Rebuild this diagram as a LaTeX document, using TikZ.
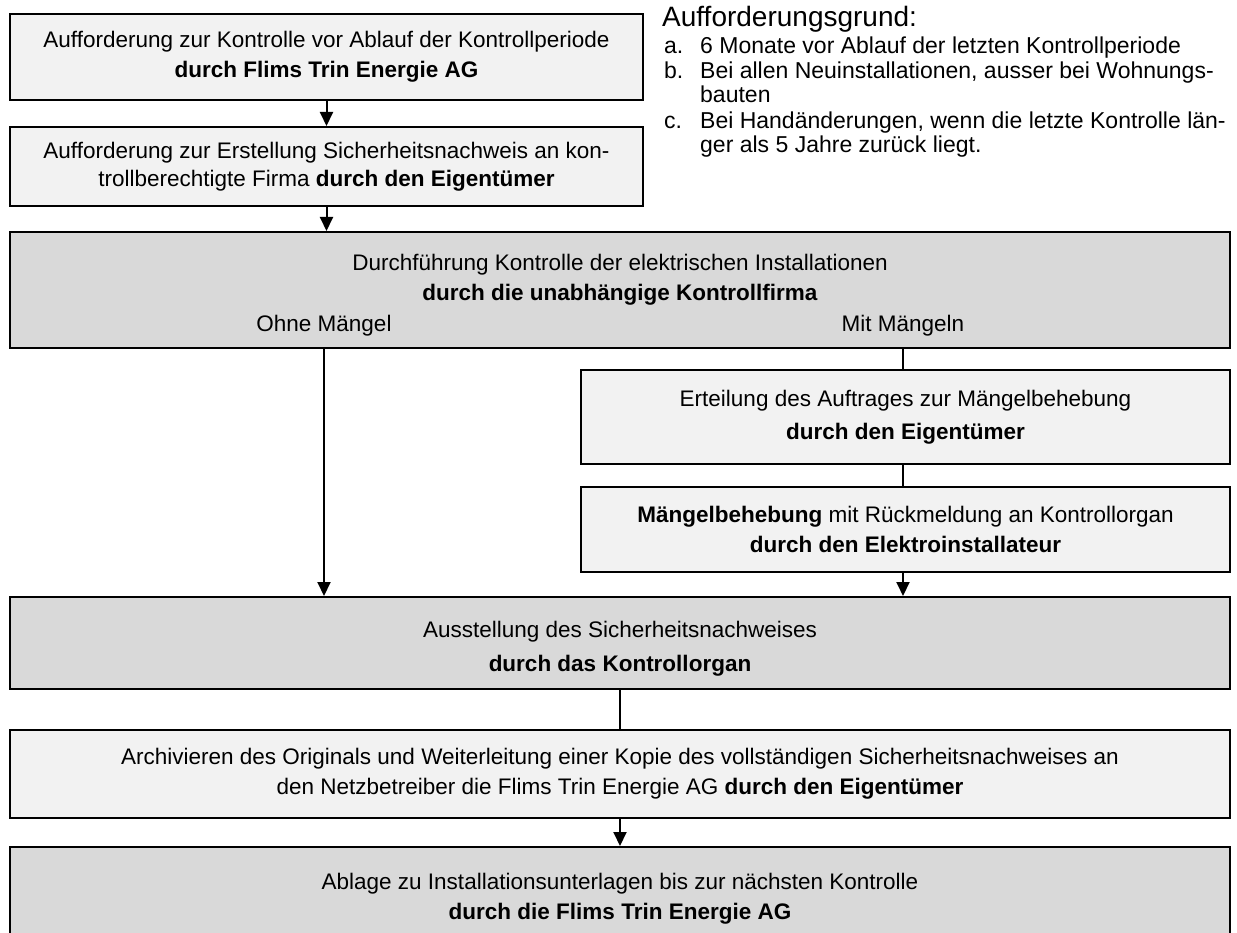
\documentclass[tikz,border=0pt]{standalone}
\usepackage{fontspec}
\setmainfont{Liberation Sans}
\usetikzlibrary{arrows.meta}
\definecolor{lightfill}{HTML}{F2F2F2}
\definecolor{darkfill}{HTML}{D9D9D9}
\begin{document}
\begin{tikzpicture}[x=1pt,y=-1pt,
  box/.style={draw=black, line width=2pt, rectangle, inner sep=0pt, align=center,
    font=\fontsize{22.5}{30}\selectfont},
  lightbox/.style={box, fill=lightfill},
  darkbox/.style={box, fill=darkfill},
  conn/.style={line width=2pt},
  arr/.style={conn, -{Triangle[width=13pt,length=14pt]}},
  txt/.style={inner sep=0pt, align=center, font=\fontsize{22.5}{30}\selectfont},
  listtxt/.style={inner sep=0pt, anchor=base west, font=\fontsize{23}{30}\selectfont},
]
\useasboundingbox (0,0) rectangle (1237,933);
\clip (0,0) rectangle (1237,933);

% boxes
\node[lightbox, minimum width=633pt, minimum height=86pt] (b1) at (326.5,57)
  {Aufforderung zur Kontrolle vor Ablauf der Kontrollperiode\\ \textbf{durch Flims Trin Energie AG}};
\node[lightbox, minimum width=633pt, minimum height=79pt] (b2) at (326.5,166.5)
  {Aufforderung zur Erstellung Sicherheitsnachweis an kon-\\[-2pt] trollberechtigte Firma \textbf{durch den Eigentümer}};
\node[darkbox, minimum width=1220pt, minimum height=116pt] (b3) at (620,290) {};
\node[txt] (t3) at (620,280)
  {Durchführung Kontrolle der elektrischen Installationen\\ \textbf{durch die unabhängige Kontrollfirma}};
\node[txt] (ohne) at (324,326) {Ohne Mängel};
\node[txt] (mit) at (903,326) {Mit Mängeln};
\node[lightbox, minimum width=649pt, minimum height=94pt] (b4) at (905.5,417)
  {Erteilung des Auftrages zur Mängelbehebung\\[3pt] \textbf{durch den Eigentümer}};
\node[lightbox, minimum width=649pt, minimum height=85pt] (b5) at (905.5,529.5)
  {\textbf{Mängelbehebung} mit Rückmeldung an Kontrollorgan\\ \textbf{durch den Elektroinstallateur}};
\node[darkbox, minimum width=1220pt, minimum height=92pt] (b6) at (620,643) {};
\node[txt] (t6) at (620,649)
  {Ausstellung des Sicherheitsnachweises\\[4pt] \textbf{durch das Kontrollorgan}};
\node[lightbox, minimum width=1220pt, minimum height=88pt] (b7) at (620,774)
  {Archivieren des Originals und Weiterleitung einer Kopie des vollständigen Sicherheitsnachweises an\\ den Netzbetreiber die Flims Trin Energie AG \textbf{durch den Eigentümer}};
\node[darkbox, minimum width=1220pt, minimum height=103pt] (b8) at (620,898.5)
  {Ablage zu Installationsunterlagen bis zur nächsten Kontrolle\\ \textbf{durch die Flims Trin Energie AG}};

% connectors
\draw[arr] (b1.south) -- (b2.north);
\draw[arr] (b2.south) -- (b2.south |- b3.north);
\draw[arr] (b3.south -| ohne.center) -- (b6.north -| ohne.center);
\draw[conn] (b3.south -| mit.center) -- (b4.north -| mit.center);
\draw[conn] (b4.south -| mit.center) -- (b5.north -| mit.center);
\draw[arr] (b5.south -| mit.center) -- (b6.north -| mit.center);
\draw[conn] (b6.south) -- (b7.north);
\draw[arr] (b7.south) -- (b8.north);

% side note
\node[inner sep=0pt, anchor=base west, font=\fontsize{28}{32}\selectfont] (head) at (662,27) {Aufforderungsgrund:};
\node[listtxt] (la) at (664,54) {a.};
\node[listtxt] (ta) at (700,54) {6 Monate vor Ablauf der letzten Kontrollperiode};
\node[listtxt] (lb) at (664,79) {b.};
\node[listtxt] (tb) at (700,79) {Bei allen Neuinstallationen, ausser bei Wohnungs-};
\node[listtxt] (tb2) at (700,103) {bauten};
\node[listtxt] (lc) at (664,129) {c.};
\node[listtxt] (tc) at (700,129) {Bei Handänderungen, wenn die letzte Kontrolle län-};
\node[listtxt] (tc2) at (700,153) {ger als 5 Jahre zurück liegt.};
\end{tikzpicture}
\end{document}
